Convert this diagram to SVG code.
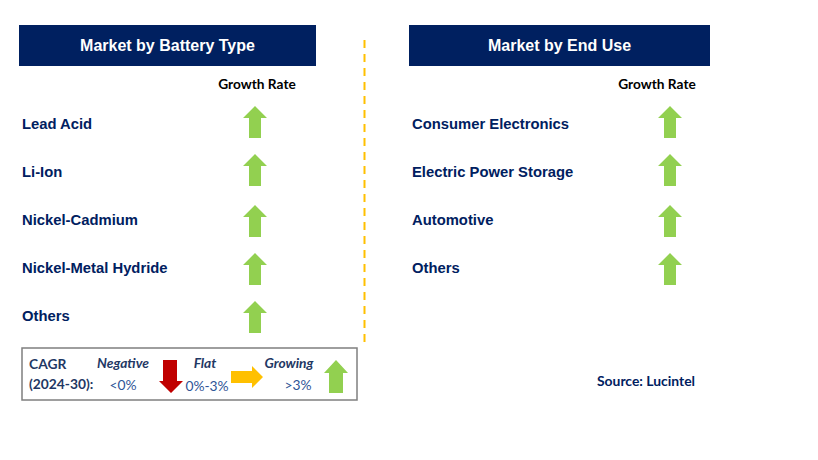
<svg xmlns="http://www.w3.org/2000/svg" width="818" height="460" viewBox="0 0 818 460">
<defs>
<style>
.hdr{fill:#002060}
.ht{fill:#fff;font-family:"Liberation Sans",Arial,sans-serif;font-size:16px;font-weight:bold;text-anchor:middle}
.gr{fill:#000;font-family:Lato,"Open Sans",sans-serif;font-size:13.7px;font-weight:bold;text-anchor:middle}
.lb{fill:#002060;font-family:"Liberation Sans",Arial,sans-serif;font-size:14.8px;font-weight:bold}
.up{fill:#92D050}
.lg{fill:#1F3864;font-family:Lato,"Open Sans",sans-serif;font-size:13.8px}
.lgb{font-weight:bold}
.lgi{font-weight:bold;font-style:italic;text-anchor:middle}
.lgv{fill:#2F5597;text-anchor:middle}
</style>
<path id="ua" d="M12 0 L24 12 L18 12 L18 32 L6 32 L6 12 L0 12 Z"/>
</defs>
<rect width="818" height="460" fill="#fff"/>
<g id="header-left"><rect class="hdr" x="19" y="25" width="297" height="41"/><text class="ht" x="167.5" y="51">Market by Battery Type</text></g>
<g id="header-right"><rect class="hdr" x="409" y="25" width="301" height="41"/><text class="ht" x="559.5" y="51">Market by End Use</text></g>
<g id="divider"><line x1="364.5" y1="40" x2="364.5" y2="342" stroke="#FFC000" stroke-width="2" stroke-dasharray="8,6"/></g>
<g id="growth-left"><text class="gr" x="257" y="89">Growth Rate</text></g>
<g id="growth-right"><text class="gr" x="657" y="89">Growth Rate</text></g>
<g id="left-rows">
<g id="lead-acid"><text class="lb" x="22" y="129">Lead Acid</text><use href="#ua" class="up" x="243" y="106"/></g>
<g id="li-ion"><text class="lb" x="22" y="177">Li-Ion</text><use href="#ua" class="up" x="243" y="154"/></g>
<g id="nicd"><text class="lb" x="22" y="225">Nickel-Cadmium</text><use href="#ua" class="up" x="243" y="205"/></g>
<g id="nimh"><text class="lb" x="22" y="273">Nickel-Metal Hydride</text><use href="#ua" class="up" x="243" y="253"/></g>
<g id="others-l"><text class="lb" x="22" y="321">Others</text><use href="#ua" class="up" x="243" y="301"/></g>
</g>
<g id="right-rows">
<g id="consumer"><text class="lb" x="412" y="129">Consumer Electronics</text><use href="#ua" class="up" x="658" y="106"/></g>
<g id="eps"><text class="lb" x="412" y="177">Electric Power Storage</text><use href="#ua" class="up" x="658" y="154"/></g>
<g id="auto"><text class="lb" x="412" y="225">Automotive</text><use href="#ua" class="up" x="658" y="205"/></g>
<g id="others-r"><text class="lb" x="412" y="273">Others</text><use href="#ua" class="up" x="658" y="253"/></g>
</g>
<g id="legend">
<rect x="22" y="348" width="335" height="52" fill="#fff" stroke="#7F7F7F" stroke-width="1.5"/>
<text class="lg lgb" x="29" y="369">CAGR</text>
<text class="lg lgb" x="29" y="389">(2024-30):</text>
<text class="lg lgi" x="123" y="368">Negative</text>
<text class="lg lgv" x="123" y="390">&lt;0%</text>
<path d="M163 360 L177 360 L177 381 L183 381 L171 393 L159 381 L163 381 Z" fill="#C00000"/>
<text class="lg lgi" x="205" y="368">Flat</text>
<text class="lg lgv" x="207" y="391">0%-3%</text>
<path d="M231 371 L252 371 L252 366 L263 377 L252 388 L252 383 L231 383 Z" fill="#FFC000"/>
<text class="lg lgi" x="289" y="368">Growing</text>
<text class="lg lgv" x="298" y="390">&gt;3%</text>
<path d="M336 360 L348 373 L343 373 L343 393 L329 393 L329 373 L324 373 Z" fill="#92D050"/>
</g>
<g id="source"><text x="646" y="386" fill="#002060" font-family="Lato,'Open Sans',sans-serif" font-size="13.9" font-weight="bold" text-anchor="middle">Source: Lucintel</text></g>
</svg>
